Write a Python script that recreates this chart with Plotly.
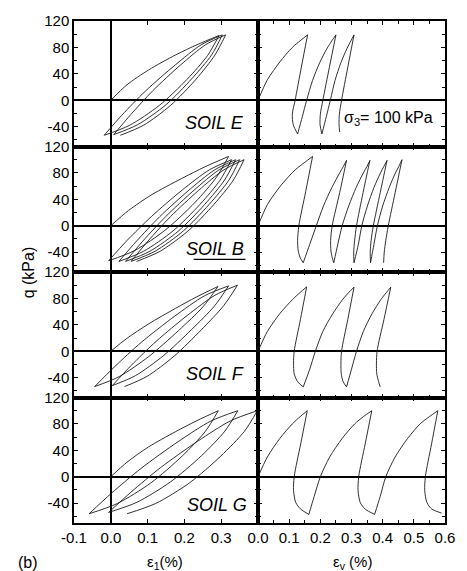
import plotly.graph_objects as go
from plotly.subplots import make_subplots

# Each soil: branches of the cyclic path (initial loading, then alternating
# unloading / reloading), given as strain (%) and deviator stress q (kPa).

# ---------------- SOIL E ----------------
e_axial_x = [
    [0, 0.044, 0.103, 0.176, 0.235, 0.294],
    [0.294, 0.263, 0.207, 0.132, 0.051, -0.018],
    [-0.018, 0.030, 0.094, 0.175, 0.245, 0.303],
    [0.303, 0.274, 0.220, 0.150, 0.073, 0.008],
    [0.008, 0.054, 0.114, 0.190, 0.257, 0.312],
    [0.312, 0.283, 0.232, 0.163, 0.089, 0.026],
]
e_axial_q = [
    [0, 23.5, 46, 68.6, 84.3, 98],
    [98, 67.8, 31.6, -7.7, -37.9, -53],
    [-53, -22.6, 13.9, 53.4, 83.8, 99],
    [99, 68.8, 32.6, -6.7, -36.9, -52],
    [-52, -21.8, 14.4, 53.7, 83.9, 99],
    [99, 68.6, 32.1, -7.4, -37.8, -53],
]
e_vol_x = [
    [0, 0.03, 0.07, 0.11, 0.135, 0.159],
    [0.159, 0.139, 0.119, 0.110, 0.113, 0.127],
    [0.127, 0.142, 0.156, 0.175, 0.198, 0.222, 0.237, 0.250],
    [0.250, 0.229, 0.208, 0.200, 0.199, 0.205],
    [0.205, 0.219, 0.232, 0.247, 0.266, 0.286, 0.298, 0.308],
    [0.308, 0.288, 0.268, 0.261, 0.260, 0.262],
]
e_vol_q = [
    [0, 31, 58, 80, 90, 99],
    [99, 50, 0, -21, -37, -51],
    [-51, -25, 0, 30, 57, 79, 90, 99],
    [99, 50, 0, -21, -37, -51],
    [-51, -25, 0, 30, 57, 79, 90, 99],
    [99, 50, 0, -21, -37, -48],
]

# ---------------- SOIL B ----------------
b_axial_x = [
    [0, 0.048, 0.112, 0.192, 0.256, 0.320],
    [0.320, 0.287, 0.229, 0.150, 0.066, -0.006],
    [-0.006, 0.044, 0.111, 0.194, 0.268, 0.328],
    [0.328, 0.297, 0.242, 0.169, 0.089, 0.022],
    [0.022, 0.070, 0.133, 0.212, 0.282, 0.339],
    [0.339, 0.309, 0.255, 0.184, 0.106, 0.040],
    [0.040, 0.087, 0.149, 0.226, 0.294, 0.350],
    [0.350, 0.321, 0.267, 0.197, 0.120, 0.055],
    [0.055, 0.101, 0.162, 0.239, 0.307, 0.362],
    [0.362, 0.333, 0.280, 0.210, 0.134, 0.070],
]
b_axial_q = [
    [0, 23.1, 47.3, 71.4, 89.3, 105],
    [105, 73.4, 35.5, -5.6, -37.2, -53],
    [-53, -22.4, 14.3, 54.1, 84.7, 100],
    [100, 69.2, 32.2, -7.8, -38.6, -54],
    [-54, -23.2, 13.8, 53.8, 84.6, 100],
    [100, 69.2, 32.2, -7.8, -38.6, -54],
    [-54, -23.2, 13.8, 53.8, 84.6, 100],
    [100, 69.2, 32.2, -7.8, -38.6, -54],
    [-54, -23.2, 13.8, 53.8, 84.6, 100],
    [100, 69.2, 32.2, -7.8, -38.6, -54],
]
b_vol_x = [
    [0, 0.03, 0.075, 0.12, 0.15, 0.175],
    [0.175, 0.153, 0.131, 0.127, 0.129, 0.135, 0.145],
    [0.145, 0.166, 0.187, 0.210, 0.237, 0.262, 0.274, 0.284],
    [0.284, 0.262, 0.238, 0.233, 0.234, 0.238, 0.243],
    [0.243, 0.256, 0.270, 0.291, 0.315, 0.338, 0.350, 0.359],
    [0.359, 0.337, 0.316, 0.310, 0.307, 0.308],
    [0.308, 0.322, 0.333, 0.351, 0.372, 0.393, 0.404, 0.414],
    [0.414, 0.392, 0.370, 0.363, 0.360, 0.361],
    [0.361, 0.372, 0.383, 0.400, 0.421, 0.441, 0.452, 0.462],
    [0.462, 0.440, 0.418, 0.410, 0.405, 0.403],
]
b_vol_q = [
    [0, 32, 62, 85, 96, 105],
    [105, 52, 0, -22, -38, -48, -56],
    [-56, -28, 0, 30, 58, 80, 90, 99],
    [99, 50, 0, -22, -38, -48, -56],
    [-56, -28, 0, 30, 58, 80, 90, 99],
    [99, 50, 0, -22, -40, -56],
    [-56, -28, 0, 30, 58, 80, 90, 99],
    [99, 50, 0, -22, -40, -56],
    [-56, -28, 0, 30, 58, 80, 90, 100],
    [100, 50, 0, -22, -40, -56],
]

# ---------------- SOIL F ----------------
f_axial_x = [
    [0, 0.044, 0.102, 0.175, 0.233, 0.291],
    [0.291, 0.251, 0.184, 0.103, 0.023, -0.044],
    [-0.044, 0.011, 0.083, 0.174, 0.254, 0.320],
    [0.320, 0.282, 0.219, 0.143, 0.067, 0.004],
    [0.004, 0.055, 0.123, 0.208, 0.283, 0.344],
    [0.344, 0.307, 0.246, 0.172, 0.098, 0.037],
]
f_axial_q = [
    [0, 19.6, 41.2, 64.7, 82.3, 98],
    [98, 67.7, 31.3, -8.0, -38.3, -53.5],
    [-53.5, -23.0, 13.6, 53.3, 83.8, 99],
    [99, 68.8, 32.6, -6.7, -36.9, -52],
    [-52, -21.6, 14.9, 54.4, 84.8, 100],
    [100, 69.3, 32.5, -7.4, -38.1, -53.5],
]
f_vol_x = [
    [0, 0.03, 0.07, 0.11, 0.135, 0.156],
    [0.156, 0.136, 0.116, 0.114, 0.116, 0.127, 0.145],
    [0.145, 0.166, 0.184, 0.208, 0.240, 0.271, 0.291, 0.308],
    [0.308, 0.288, 0.268, 0.266, 0.267, 0.273, 0.284],
    [0.284, 0.300, 0.316, 0.338, 0.366, 0.394, 0.412, 0.426],
    [0.426, 0.404, 0.382, 0.380, 0.381, 0.387, 0.392],
]
f_vol_q = [
    [0, 30, 57, 78, 89, 97.5],
    [97.5, 48, 0, -18, -34, -46, -54],
    [-54, -27, 0, 30, 57, 78, 89, 97],
    [97, 48, 0, -18, -34, -46, -54],
    [-54, -27, 0, 30, 57, 78, 89, 97],
    [97, 48, 0, -18, -34, -46, -54],
]

# ---------------- SOIL G ----------------
g_axial_x = [
    [0, 0.044, 0.102, 0.175, 0.234, 0.292],
    [0.292, 0.257, 0.194, 0.109, 0.018, -0.059],
    [-0.059, 0.002, 0.082, 0.183, 0.272, 0.345],
    [0.345, 0.310, 0.247, 0.162, 0.071, -0.006],
    [-0.006, 0.055, 0.135, 0.236, 0.325, 0.398],
    [0.398, 0.363, 0.299, 0.214, 0.122, 0.044],
]
g_axial_q = [
    [0, 22, 45, 68, 85, 100],
    [100, 68.8, 31.4, -9.2, -40.4, -56],
    [-56, -24.8, 12.6, 53.2, 84.4, 100],
    [100, 69.2, 32.2, -7.8, -38.6, -54],
    [-54, -23.2, 13.8, 53.8, 84.6, 100],
    [100, 68.8, 31.4, -9.2, -40.4, -56],
]
g_vol_x = [
    [0, 0.03, 0.07, 0.11, 0.135, 0.158],
    [0.158, 0.137, 0.116, 0.114, 0.121, 0.137, 0.163],
    [0.163, 0.180, 0.200, 0.230, 0.270, 0.310, 0.338, 0.365],
    [0.365, 0.344, 0.323, 0.321, 0.328, 0.344, 0.374],
    [0.374, 0.392, 0.410, 0.440, 0.480, 0.520, 0.550, 0.577],
    [0.577, 0.557, 0.537, 0.535, 0.542, 0.558, 0.589],
]
g_vol_q = [
    [0, 30, 58, 80, 91, 100],
    [100, 50, 0, -21, -39, -49, -57],
    [-57, -30, 0, 30, 58, 80, 91, 100],
    [100, 50, 0, -21, -39, -49, -57],
    [-57, -30, 0, 30, 58, 80, 91, 100],
    [100, 50, 0, -21, -39, -49, -55],
]

soil_names = ["SOIL E", "SOIL B", "SOIL F", "SOIL G"]
axial_series = [(e_axial_x, e_axial_q), (b_axial_x, b_axial_q),
                (f_axial_x, f_axial_q), (g_axial_x, g_axial_q)]
vol_series = [(e_vol_x, e_vol_q), (b_vol_x, b_vol_q),
              (f_vol_x, f_vol_q), (g_vol_x, g_vol_q)]

axial_ticks = [-0.1, 0.0, 0.1, 0.2, 0.3]
axial_tick_text = ["-0.1", "0.0", "0.1", "0.2", "0.3"]
vol_ticks = [0.0, 0.1, 0.2, 0.3, 0.4, 0.5, 0.6]
vol_tick_text = ["0.0", "0.1", "0.2", "0.3", "0.4", "0.5", "0.6"]
q_ticks = [-40, 0, 40, 80, 120]
q_tick_text = ["-40", "0", "40", "80", "120"]

FONT = "Liberation Sans, Arial, sans-serif"
INK = "#1a1a1a"


def joined(xs, qs):
    """Concatenate branches into one path broken by gaps."""
    px, pq = [], []
    for bx, bq in zip(xs, qs):
        px += list(bx) + [None]
        pq += list(bq) + [None]
    return px, pq


fig = make_subplots(rows=4, cols=2, horizontal_spacing=0, vertical_spacing=0,
                    column_widths=[189, 192])

for r in range(4):
    for c, series in enumerate((axial_series, vol_series)):
        xs, qs = series[r]
        px, pq = joined(xs, qs)
        fig.add_trace(go.Scatter(x=px, y=pq, mode="lines",
                                 line=dict(color=INK, width=0.9, shape="spline", smoothing=0.8),
                                 connectgaps=False, showlegend=False, hoverinfo="skip"),
                      row=r + 1, col=c + 1)

common_axis = dict(showgrid=False, showline=True, linecolor="black", linewidth=1.5,
                   mirror="allticks", ticks="inside", ticklen=4, tickwidth=1,
                   tickcolor="black", zeroline=True, zerolinecolor="black",
                   zerolinewidth=1.6,
                   tickfont=dict(family=FONT, size=15, color="black"))

for r in range(4):
    bottom = r == 3
    fig.update_xaxes(range=[-0.1, 0.4], tickvals=axial_ticks, ticktext=axial_tick_text,
                     showticklabels=bottom, **common_axis, row=r + 1, col=1)
    fig.update_xaxes(range=[0, 0.6], tickvals=vol_ticks, ticktext=vol_tick_text,
                     minor=dict(dtick=0.05, ticks="inside", ticklen=3, tickcolor="black"),
                     showticklabels=bottom, **common_axis, row=r + 1, col=2)
    for c in (1, 2):
        fig.update_yaxes(range=[-70, 120], tickvals=q_ticks, ticktext=q_tick_text,
                         minor=dict(tickvals=[-60, -20, 20, 60, 100], ticks="inside",
                                    ticklen=3, tickcolor="black"),
                         showticklabels=(c == 1), **common_axis, row=r + 1, col=c)

# Soil labels in the axial-strain panels
label_pos = [(0.368, -33.7), (0.368, -35), (0.368, -35), (0.376, -42)]
for r, (name, (lx, ly)) in enumerate(zip(soil_names, label_pos)):
    ax = 2 * r + 1
    xref = "x" if ax == 1 else f"x{ax}"
    yref = "y" if ax == 1 else f"y{ax}"
    fig.add_annotation(x=lx, y=ly, xref=xref, yref=yref, text=f"<i>{name}</i>",
                       showarrow=False, xanchor="right", yanchor="middle",
                       font=dict(family=FONT, size=18, color="black"))

# underline under SOIL B
fig.add_shape(type="line", xref="x3", yref="y3", x0=0.225, x1=0.366, y0=-51, y1=-51,
              line=dict(color="black", width=1.3))

# confining pressure
fig.add_annotation(x=0.569, y=-27.7, xref="x2", yref="y2",
                   text="σ<sub>3</sub>= 100 kPa", showarrow=False,
                   xanchor="right", yanchor="middle",
                   font=dict(family=FONT, size=16, color="black"))

# heavy divider between the two columns
fig.add_shape(type="line", xref="paper", yref="paper", x0=189 / 381, x1=189 / 381,
              y0=0, y1=1, line=dict(color="black", width=3))

# axis titles and panel tag
fig.add_annotation(x=-0.123, y=0.5, xref="paper", yref="paper", text="q (kPa)",
                   textangle=-90, showarrow=False, xanchor="center", yanchor="middle",
                   font=dict(family=FONT, size=16, color="black"))
fig.add_annotation(x=0.245, y=-0.079, xref="paper", yref="paper",
                   text="ε<sub>1</sub>(%)", showarrow=False, xanchor="center",
                   yanchor="middle", font=dict(family=FONT, size=15, color="black"))
fig.add_annotation(x=0.751, y=-0.079, xref="paper", yref="paper",
                   text="ε<sub>v</sub> (%)", showarrow=False, xanchor="center",
                   yanchor="middle", font=dict(family=FONT, size=15, color="black"))
fig.add_annotation(x=-0.123, y=-0.079, xref="paper", yref="paper", text="(b)",
                   showarrow=False, xanchor="center", yanchor="middle",
                   font=dict(family=FONT, size=16, color="black"))

fig.update_layout(width=467, height=571, margin=dict(l=74, r=12, t=16, b=48),
                  plot_bgcolor="white", paper_bgcolor="white")

fig.write_html("out.html")
